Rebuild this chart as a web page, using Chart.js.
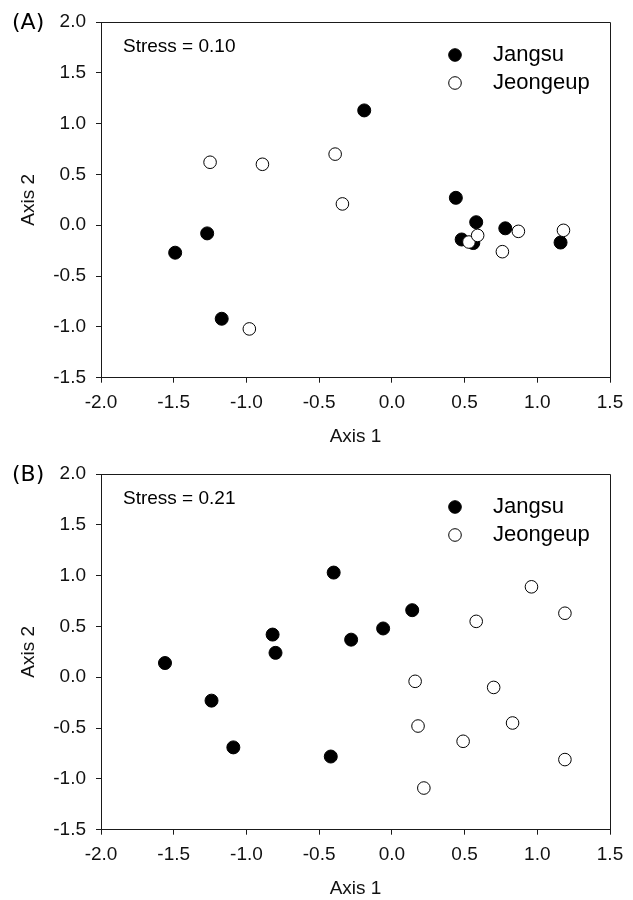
<!DOCTYPE html>
<html>
<head>
<meta charset="utf-8">
<script src="https://cdn.jsdelivr.net/npm/chart.js@4/dist/chart.umd.min.js"></script>
<style>
  html, body { margin: 0; padding: 0; background: #ffffff; }
  #wrap { position: relative; width: 633px; height: 900px; background: #fff; }
  .panel { position: absolute; left: 0; width: 633px; height: 450px; }
</style>
</head>
<body>
<div id="wrap">
  <div class="panel" style="top:0px"><canvas id="cA" width="633" height="450"></canvas></div>
  <div class="panel" style="top:452px"><canvas id="cB" width="633" height="450"></canvas></div>
</div>
<script>
// ---- Data ----
const seriesNames = ["Jangsu", "Jeongeup"];
const panelLabels = ["(A)", "(B)"];
const stressLabels = ["Stress = 0.10", "Stress = 0.21"];

const xTicks = [-2.0, -1.5, -1.0, -0.5, 0.0, 0.5, 1.0, 1.5];
const yTicks = [-1.5, -1.0, -0.5, 0.0, 0.5, 1.0, 1.5, 2.0];

// Panel A
const aJangsuX   = [-1.49, -1.27, -1.17, -0.19, 0.44, 0.58, 0.48, 0.56, 0.78, 1.16];
const aJangsuY   = [-0.27, -0.08, -0.92, 1.13, 0.27, 0.03, -0.14, -0.175, -0.03, -0.17];
const aJeongeupX = [-1.25, -0.89, -0.98, -0.39, -0.34, 0.53, 0.59, 0.87, 0.76, 1.18];
const aJeongeupY = [0.62, 0.60, -1.02, 0.70, 0.21, -0.165, -0.10, -0.06, -0.26, -0.05];

// Panel B
const bJangsuX   = [-1.56, -1.24, -1.09, -0.82, -0.80, -0.40, 0.14, -0.06, -0.28, -0.42];
const bJangsuY   = [0.14, -0.23, -0.69, 0.42, 0.24, 1.03, 0.66, 0.48, 0.37, -0.78];
const bJeongeupX = [0.96, 1.19, 0.58, 0.16, 0.70, 0.18, 0.83, 0.49, 1.19, 0.22];
const bJeongeupY = [0.89, 0.63, 0.55, -0.04, -0.10, -0.48, -0.45, -0.63, -0.81, -1.09];

// ---- Helpers ----
const FONT = "'Liberation Sans', Arial, sans-serif";
const AXIS_COLOR = '#1a1a1a';
function toPoints(xs, ys) { return xs.map((x, i) => ({ x: x, y: ys[i] })); }

const decorPlugin = {
  id: 'decor',
  afterDraw(chart, args, opts) {
    const { ctx, chartArea: ca } = chart;
    ctx.save();
    // box (top and right sides)
    ctx.strokeStyle = AXIS_COLOR;
    ctx.lineWidth = 1;
    ctx.beginPath();
    ctx.moveTo(ca.left, ca.top + 0.5);
    ctx.lineTo(ca.right + 0.5, ca.top + 0.5);
    ctx.lineTo(ca.right + 0.5, ca.bottom);
    ctx.stroke();

    // panel label
    ctx.fillStyle = '#000';
    ctx.font = "22px 'DejaVu Sans', sans-serif";
    ctx.textAlign = 'left';
    ctx.textBaseline = 'middle';
    ctx.fillText(opts.panel, 12, ca.top + 1);

    // stress text
    ctx.font = "19px " + FONT;
    ctx.fillText(opts.stress, ca.left + 22, ca.top + 25);

    // legend
    const lx = ca.left + 354;
    const ys = [ca.top + 33, ca.top + 61];
    const fills = ['#000000', '#ffffff'];
    ctx.font = "22px " + FONT;
    for (let i = 0; i < 2; i++) {
      ctx.beginPath();
      ctx.arc(lx, ys[i], 6.3, 0, Math.PI * 2);
      ctx.fillStyle = fills[i];
      ctx.fill();
      ctx.lineWidth = 1;
      ctx.strokeStyle = '#000';
      ctx.stroke();
      ctx.fillStyle = '#000';
      ctx.fillText(seriesNames[i], ca.left + 392, ys[i]);
    }
    ctx.restore();
  }
};

function makeChart(id, jx, jy, ex, ey, panel, stress) {
  return new Chart(document.getElementById(id), {
    type: 'scatter',
    data: {
      datasets: [
        {
          label: seriesNames[0],
          data: toPoints(jx, jy),
          backgroundColor: '#000000',
          borderColor: '#000000',
          borderWidth: 1,
          pointRadius: 6.5,
          pointHoverRadius: 6.5,
          order: 2
        },
        {
          label: seriesNames[1],
          data: toPoints(ex, ey),
          backgroundColor: '#ffffff',
          borderColor: '#000000',
          borderWidth: 1,
          pointRadius: 6.3,
          pointHoverRadius: 6.3,
          order: 1
        }
      ]
    },
    options: {
      responsive: false,
      animation: false,
      devicePixelRatio: 1,
      events: [],
      layout: { padding: { top: 22, right: 23, left: 0, bottom: 0 } },
      plugins: {
        legend: { display: false },
        tooltip: { enabled: false },
        decor: { panel: panel, stress: stress }
      },
      scales: {
        x: {
          type: 'linear',
          min: xTicks[0],
          max: xTicks[xTicks.length - 1],
          afterFit(scale) { scale.height = 72.3; },
          afterBuildTicks(scale) { scale.ticks = xTicks.map(v => ({ value: v })); },
          ticks: {
            callback: v => v.toFixed(1),
            font: { family: FONT, size: 19 },
            color: '#111',
            padding: 9,
            maxRotation: 0,
            autoSkip: false
          },
          grid: {
            drawOnChartArea: false,
            drawTicks: true,
            tickLength: 5,
            tickColor: AXIS_COLOR,
            tickWidth: 1
          },
          border: { display: true, color: AXIS_COLOR, width: 1 },
          title: {
            display: true,
            text: 'Axis 1',
            font: { family: FONT, size: 19 },
            color: '#111',
            padding: { top: 0, bottom: 1.6 }
          }
        },
        y: {
          type: 'linear',
          min: yTicks[0],
          max: yTicks[yTicks.length - 1],
          afterFit(scale) { scale.width = 101; },
          afterBuildTicks(scale) { scale.ticks = yTicks.map(v => ({ value: v })); },
          ticks: {
            callback: v => v.toFixed(1),
            font: { family: FONT, size: 19 },
            color: '#111',
            padding: 10,
            autoSkip: false
          },
          grid: {
            drawOnChartArea: false,
            drawTicks: true,
            tickLength: 5,
            tickColor: AXIS_COLOR,
            tickWidth: 1
          },
          border: { display: true, color: AXIS_COLOR, width: 1 },
          title: {
            display: true,
            text: 'Axis 2',
            font: { family: FONT, size: 19 },
            color: '#111',
            padding: { top: 17.6, bottom: 0 }
          }
        }
      }
    },
    plugins: [decorPlugin]
  });
}

makeChart('cA', aJangsuX, aJangsuY, aJeongeupX, aJeongeupY, panelLabels[0], stressLabels[0]);
makeChart('cB', bJangsuX, bJangsuY, bJeongeupX, bJeongeupY, panelLabels[1], stressLabels[1]);
</script>
</body>
</html>
